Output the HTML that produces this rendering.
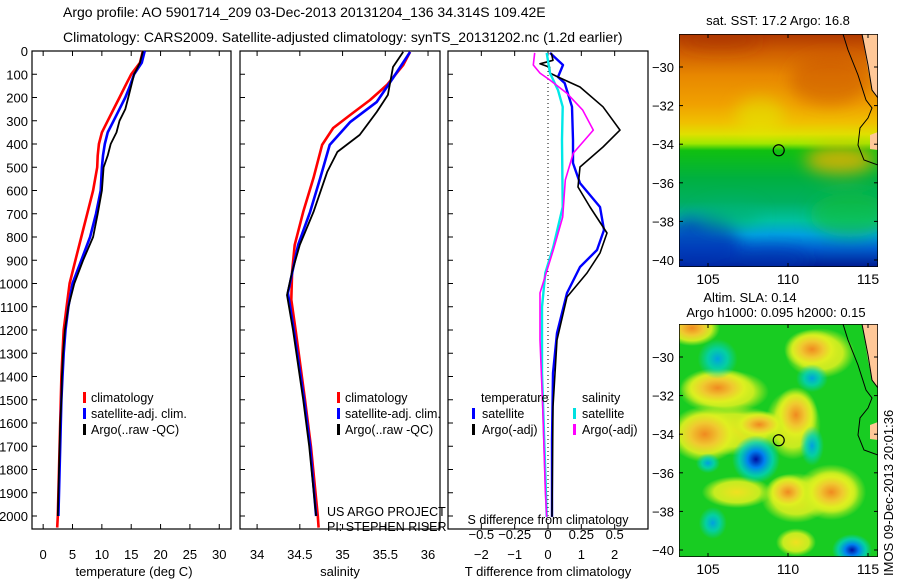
<!DOCTYPE html>
<html><head><meta charset="utf-8">
<style>
html,body{margin:0;padding:0;background:#fff;}
svg{display:block;font-family:"Liberation Sans",sans-serif;}
</style></head>
<body>
<svg id="s" width="900" height="580" viewBox="0 0 900 580" xmlns="http://www.w3.org/2000/svg">
<defs>
<linearGradient id="sstg" x1="0" y1="0" x2="0" y2="1">
<stop offset="0" stop-color="#b03800"/><stop offset="0.08" stop-color="#d06000"/>
<stop offset="0.18" stop-color="#e88800"/><stop offset="0.3" stop-color="#f0a000"/>
<stop offset="0.38" stop-color="#f0c000"/><stop offset="0.43" stop-color="#e0e000"/>
<stop offset="0.47" stop-color="#a0e800"/><stop offset="0.5" stop-color="#10c010"/>
<stop offset="0.62" stop-color="#00b040"/><stop offset="0.72" stop-color="#00b060"/>
<stop offset="0.8" stop-color="#00c0a0"/><stop offset="0.86" stop-color="#00a0e0"/>
<stop offset="0.92" stop-color="#0060d0"/><stop offset="1" stop-color="#001a90"/></linearGradient>
<filter id="bl" x="-50%" y="-50%" width="200%" height="200%"><feGaussianBlur stdDeviation="8"/></filter>
<radialGradient id="yel"><stop offset="0" stop-color="#f08a20"/><stop offset="0.4" stop-color="#f0c830"/><stop offset="0.7" stop-color="#e0f020" stop-opacity="0.9"/><stop offset="1" stop-color="#c8f020" stop-opacity="0"/></radialGradient>
<radialGradient id="yel2"><stop offset="0" stop-color="#f0e020"/><stop offset="0.65" stop-color="#d8f020" stop-opacity="0.9"/><stop offset="1" stop-color="#c8f020" stop-opacity="0"/></radialGradient>
<radialGradient id="blu"><stop offset="0" stop-color="#0010a0"/><stop offset="0.35" stop-color="#0080f0"/><stop offset="0.7" stop-color="#00d0c0" stop-opacity="0.8"/><stop offset="1" stop-color="#00d0c0" stop-opacity="0"/></radialGradient>
<radialGradient id="cya"><stop offset="0" stop-color="#00a0e0"/><stop offset="0.5" stop-color="#00d0c0" stop-opacity="0.8"/><stop offset="1" stop-color="#00d0c0" stop-opacity="0"/></radialGradient>
<clipPath id="c1"><rect x="679" y="34" width="199" height="233"/></clipPath>
<clipPath id="c2"><rect x="679" y="324" width="199" height="233"/></clipPath>
</defs>
<g font-size="14" fill="#000">
<text x="63" y="17">Argo profile: AO 5901714_209 03-Dec-2013 20131204_136 34.314S 109.42E</text>
<text x="63" y="42">Climatology: CARS2009. Satellite-adjusted climatology: synTS_20131202.nc (1.2d earlier)</text>
</g>
<!-- SST map -->
<g clip-path="url(#c1)">
<rect x="679" y="34" width="199" height="233" fill="url(#sstg)"/>
<g filter="url(#bl)">
<ellipse cx="700" cy="245" rx="40" ry="30" fill="#0030b0" opacity="0.7"/>
<ellipse cx="770" cy="260" rx="40" ry="12" fill="#0030b0" opacity="0.6"/>
<ellipse cx="730" cy="215" rx="30" ry="12" fill="#00b070" opacity="0.6"/>
<ellipse cx="850" cy="215" rx="40" ry="22" fill="#10c030" opacity="0.6"/>
<ellipse cx="840" cy="160" rx="35" ry="14" fill="#f0b000" opacity="0.8"/>
<ellipse cx="760" cy="115" rx="25" ry="18" fill="#e0f000" opacity="0.5"/>
<ellipse cx="830" cy="80" rx="40" ry="25" fill="#c85000" opacity="0.5"/>
<ellipse cx="720" cy="40" rx="40" ry="10" fill="#a83000" opacity="0.5"/>
</g>
<polygon points="862,34 878,34 878,98 872,90 868,70" fill="#ffc898"/>
<polygon points="870,135 878,132 878,150 870,149" fill="#ffc898"/>
<polyline points="843,34 848,50 858,75 866,100 872,108 868,118 860,128 858,145 864,160 878,165" fill="none" stroke="#000" stroke-width="1"/>
<polyline points="862,34 868,65 872,90 878,98" fill="none" stroke="#000" stroke-width="1"/>
<rect x="679" y="34" width="199" height="233" fill="none" stroke="#000" stroke-width="1.5"/>
</g>
<!-- SLA map -->
<g clip-path="url(#c2)">
<rect x="679" y="324" width="199" height="233" fill="#18cc22"/>
<g id="slablobs"></g>
<polygon points="862,324 878,324 878,388 872,380 868,360" fill="#ffc898"/>
<polygon points="870,425 878,422 878,440 870,439" fill="#ffc898"/>
<polyline points="843,324 848,340 858,365 866,390 872,398 868,408 860,418 858,435 864,450 878,455" fill="none" stroke="#000" stroke-width="1"/>
<polyline points="862,324 868,355 872,380 878,388" fill="none" stroke="#000" stroke-width="1"/>
<rect x="679" y="324" width="199" height="233" fill="none" stroke="#000" stroke-width="1.5"/>
</g>
<g id="g" font-size="13"></g>
<g font-size="12.5">
<text x="91" y="402">climatology</text>
<text x="91" y="418">satellite-adj. clim.</text>
<text x="91" y="434">Argo(..raw -QC)</text>
<rect x="83" y="392" width="3" height="11" fill="#f00"/><rect x="83" y="408" width="3" height="11" fill="#00f"/><rect x="83" y="424" width="3" height="11" fill="#000"/>
<text x="345" y="402">climatology</text>
<text x="345" y="418">satellite-adj. clim.</text>
<text x="345" y="434">Argo(..raw -QC)</text>
<rect x="337" y="392" width="3" height="11" fill="#f00"/><rect x="337" y="408" width="3" height="11" fill="#00f"/><rect x="337" y="424" width="3" height="11" fill="#000"/>
<text x="481" y="402">temperature</text>
<text x="482" y="418">satellite</text>
<text x="482" y="434">Argo(-adj)</text>
<rect x="472" y="408" width="3" height="11" fill="#00f"/><rect x="472" y="424" width="3" height="11" fill="#000"/>
<text x="582" y="402">salinity</text>
<text x="582" y="418">satellite</text>
<text x="582" y="434">Argo(-adj)</text>
<rect x="573" y="408" width="3" height="11" fill="#00e0e0"/><rect x="573" y="424" width="3" height="11" fill="#f0f"/>
<text x="327" y="516">US ARGO PROJECT</text>
<text x="327" y="531">PI: STEPHEN RISER</text>
<text x="548" y="524" text-anchor="middle">S difference from climatology</text>
</g>
<g font-size="13" text-anchor="middle">
<text x="134" y="576">temperature (deg C)</text>
<text x="340" y="576">salinity</text>
<text x="548" y="576">T difference from climatology</text>
<text x="778" y="25">sat. SST: 17.2 Argo: 16.8</text>
<text x="750" y="302">Altim. SLA: 0.14</text>
<text x="776" y="317">Argo h1000: 0.095 h2000: 0.15</text>
</g>
<text transform="translate(893,576) rotate(-90)" font-size="13">IMOS 09-Dec-2013 20:01:36</text>
</svg>
<script>
// ---- data ----
const depths = [0,50,100,150,200,250,300,350,400,450,500,600,700,800,900,1000,1100,1200,1300,1400,1500,1600,1700,1800,1900,2000,2050];
const tempClim = [17,16.5,15,14,13,12,11,10,9.5,9.3,9.2,8.5,7.5,6.5,5.5,4.5,4,3.5,3.3,3.1,3,2.9,2.8,2.7,2.6,2.5,2.4];
const tempSat  = [17.3,16.8,15.5,14.8,14,13,12,11,10.5,10.2,10,9.8,9,8,6.5,5,4.3,3.8,3.5,3.3,3.1,3,2.9,2.8,2.7,2.6];
const tempArgo = [17,16.5,15.5,15,14.5,14,13,12.5,11.5,11,10.3,10,9.3,8.5,6.8,5.3,4.3,3.7,3.4,3.2,3.1,2.9,2.8,2.7,2.6,2.5];
const salDepths = [4,60,146,211,275,331,404,546,692,834,950,1070,1200,1500,1700,2000,2050];
const salClim = [35.79,35.71,35.52,35.32,35.09,34.89,34.76,34.66,34.54,34.44,34.41,34.40,34.45,34.56,34.63,34.71,34.72];
const salArgoDepths = [4,69,189,262,361,434,520,692,834,950,1050,1200,1500,1700,2000];
const salArgo = [35.71,35.59,35.53,35.40,35.20,34.94,34.82,34.66,34.50,34.41,34.35,34.42,34.54,34.61,34.69];
const salSatDepths = [4,116,219,305,404,546,692,834,1041,1200,1500,1700,2000];
const salSat = [35.79,35.59,35.40,35.09,34.85,34.74,34.62,34.48,34.36,34.43,34.55,34.62,34.69];
const dtSatDepths = [8,60,112,138,240,383,482,568,671,770,856,929,1041,1213,1385,1673,2004];
const dtSat = [0.06,0.45,0.3,0.5,0.72,0.75,0.75,0.96,1.56,1.68,1.47,0.96,0.57,0.27,0.15,0.12,0.12];
const dtArgoDepths = [8,40,55,70,95,112,155,240,340,413,499,585,671,783,869,955,1058,1243,1530,2004];
const dtArgo = [0.1,0.15,-0.24,0.05,0.06,0.3,0.96,1.65,2.16,1.65,0.96,0.9,1.26,1.77,1.56,1.17,0.57,0.27,0.15,0.12];
const dsSatDepths = [8,95,168,240,383,671,843,955,1101,1385,1815,2004];
const dsSat = [-0.01,0.015,0.075,0.11,0.105,0.11,0.04,-0.02,-0.045,-0.045,-0.02,-0.01];
const dsArgoDepths = [8,60,95,125,181,254,340,439,555,714,856,1041,1243,1531,1888,2004];
const dsArgo = [-0.1,-0.11,-0.06,0.015,0.14,0.26,0.34,0.19,0.13,0.11,0.04,-0.06,-0.06,-0.04,-0.02,-0.01];
const depthTicks = [0,100,200,300,400,500,600,700,800,900,1000,1100,1200,1300,1400,1500,1600,1700,1800,1900,2000];
const tempTicks = [0,5,10,15,20,25,30];
const salTicks = [34,34.5,35,35.5,36];
const salTickLabels = ['34','34.5','35','35.5','36'];
const dtTicks = [-2,-1,0,1,2];
const dsTicks = [-0.5,-0.25,0,0.25,0.5];
const latTicks = [-30,-32,-34,-36,-38,-40];
const lonTicks = [105,110,115];
const argoLon = 109.42, argoLat = -34.314;

const NS='http://www.w3.org/2000/svg';
const g=document.getElementById('g');
function mk(t,a,p){const e=document.createElementNS(NS,t);for(const k in a)e.setAttribute(k,a[k]);(p||g).appendChild(e);return e;}
const y0=51,y1=529;
const yD=d=>y0+d*0.2325;
const panels=[
 {x0:32,x1:231,lo:-1.9,hi:32,name:'temperature-panel'},
 {x0:240,x1:440,lo:33.8,hi:36.14,name:'salinity-panel'},
 {x0:448,x1:648,lo:-3,hi:3,name:'difference-panel'}];
panels.forEach(p=>{p.sx=v=>p.x0+(v-p.lo)/(p.hi-p.lo)*(p.x1-p.x0);});
const xT=panels[0].sx,xS=panels[1].sx,xDT=panels[2].sx,xDS=v=>panels[2].sx(v*4);

function line(xs,ds,xf,col,w,name){
  const pts=xs.map((v,i)=>xf(v).toFixed(1)+','+yD(ds[i]).toFixed(1)).join(' ');
  const e=mk('polyline',{points:pts,fill:'none',stroke:col,'stroke-width':w,'stroke-linejoin':'round'});
  
  
}
panels.forEach((p,pi)=>{
  const r=mk('rect',{x:p.x0,y:y0,width:p.x1-p.x0,height:y1-y0,fill:'none',stroke:'#000','stroke-width':1.2});
  
  
  depthTicks.forEach(d=>{
    mk('line',{x1:p.x0,x2:p.x0+5,y1:yD(d),y2:yD(d),stroke:'#000'});
    if(pi==0){const t=mk('text',{x:28,y:yD(d)+5,'text-anchor':'end'});t.textContent=d;
      
      }
  });
});
function xticks(ticks,labels,xf,ty,inside){
  ticks.forEach((v,i)=>{
    const x=xf(v);
    if(!inside){mk('line',{x1:x,x2:x,y1:y1,y2:y1-5,stroke:'#000'});mk('line',{x1:x,x2:x,y1:y0,y2:y0+5,stroke:'#000'});}
    const t=mk('text',{x:x,y:ty,'text-anchor':'middle'});t.textContent=labels[i];
    
    
  });
}
xticks(tempTicks,tempTicks.map(String),xT,559);
xticks(salTicks,salTickLabels,xS,559);
xticks(dtTicks,dtTicks.map(v=>v<0?'\u2212'+(-v):String(v)),xDT,559);
xticks(dsTicks,dsTicks.map(v=>v<0?'\u2212'+(-v):String(v)),xDS,539,true);
mk('line',{x1:xDT(0),x2:xDT(0),y1:y0,y2:y1,stroke:'#000','stroke-dasharray':'1,3','stroke-width':1});
line(tempClim,depths,xT,'#f00',2.6,'temp-climatology-line');
line(tempSat,depths.slice(0,tempSat.length),xT,'#00f',2.6,'temp-satellite-line');
line(tempArgo,depths.slice(0,tempArgo.length),xT,'#000',1.8,'temp-argo-line');
line(salClim,salDepths,xS,'#f00',2.6,'sal-climatology-line');
line(salSat,salSatDepths,xS,'#00f',2.6,'sal-satellite-line');
line(salArgo,salArgoDepths,xS,'#000',1.8,'sal-argo-line');
line(dtSat,dtSatDepths,xDT,'#00f',2.4,'dt-satellite-line');
line(dtArgo,dtArgoDepths,xDT,'#000',1.6,'dt-argo-line');
line(dsSat,dsSatDepths,xDS,'#00e8e8',2.4,'ds-satellite-line');
line(dsArgo,dsArgoDepths,xDS,'#f0f',1.6,'ds-argo-line');
// maps
const lx=lon=>708+(lon-105)*16, ly=(lat,top)=>top+33+(-30-lat)*19.3;
[34,324].forEach((top,mi)=>{
  latTicks.forEach(l=>{
    const y=ly(l,top);
    mk('line',{x1:679,x2:683,y1:y,y2:y,stroke:'#000'});mk('line',{x1:878,x2:874,y1:y,y2:y,stroke:'#000'});
    const t=mk('text',{x:674,y:y+5,'text-anchor':'end'});t.textContent='\u2212'+(-l);
    
    
  });
  lonTicks.forEach(l=>{
    const x=lx(l);
    mk('line',{x1:x,x2:x,y1:top,y2:top+4,stroke:'#000'});mk('line',{x1:x,x2:x,y1:top+233,y2:top+229,stroke:'#000'});
    const t=mk('text',{x:x,y:top+250,'text-anchor':'middle','font-size':14});t.textContent=l;
    
    
  });
  const c=mk('circle',{cx:lx(argoLon),cy:ly(argoLat,top),r:5.5,fill:'none',stroke:'#000','stroke-width':1.2});
  
  
});
const blobs=[[106.5,-33.8,55,25,'yel2'],[106,-31.8,45,22,'yel2'],[110.3,-33.5,28,35,'yel2'],[112,-29.8,35,25,'yel2'],[110.5,-37.3,35,25,'yel2'],[112.7,-37,35,28,'yel2'],[106.8,-37,35,16,'yel2'],[110.5,-39.6,20,14,'yel2'],[104.8,-34,36,28,'yel'],[105.6,-31.6,38,20,'yel'],[104,-28.5,28,18,'yel'],[110.5,-33,22,28,'yel'],[111.5,-29.6,28,20,'yel'],[108.2,-33.5,26,14,'yel'],[110,-37,22,18,'yel'],[112.7,-37,28,22,'yel'],[108,-35.3,24,24,'blu'],[105.6,-30.1,20,20,'cya'],[114,-40,20,16,'blu'],[111.5,-31.1,16,14,'cya'],[111.5,-34.6,12,20,'cya'],[105.3,-38.6,14,16,'cya'],[105,-35.5,12,10,'cya']];
const bl=document.getElementById('slablobs');
blobs.forEach(b=>mk('ellipse',{cx:lx(b[0]),cy:ly(b[1],324),rx:b[2],ry:b[3],fill:'url(#'+b[4]+')'},bl));
</script>
</body></html>
